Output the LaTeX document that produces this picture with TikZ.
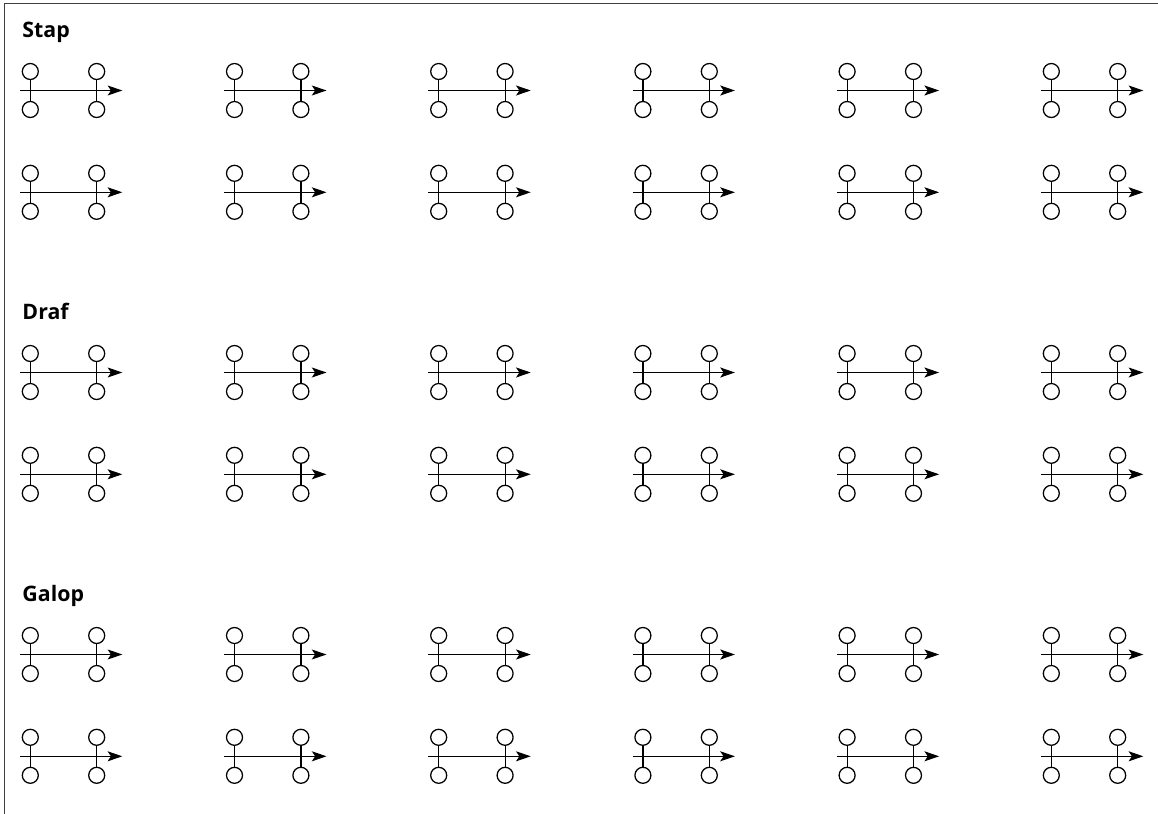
\documentclass[tikz,border=0pt]{standalone}
\usepackage{fontspec}
\setmainfont{Open Sans}
\usetikzlibrary{arrows.meta}

\tikzset{
  hoof/.style = {draw, circle, minimum size=12pt, inner sep=0pt, line width=0.95pt},
  leg/.style = {line width=0.9pt},
  pace/.style = {line width=0.8pt, -{Stealth[length=11pt, width=7.5pt, inset=2.5pt]}},
  gaitlabel/.style = {anchor=base west, inner sep=0pt, font=\bfseries\fontsize{16pt}{19pt}\selectfont},
  frameline/.style = {line width=1.1pt, black!75}
}

\begin{document}
\begin{tikzpicture}[x=0.75pt, y=-0.75pt]
\useasboundingbox (0,0) rectangle (1158,814);
% frame: top and left only
\coordinate (fbl) at (4.7,814);
\coordinate (ftl) at (4.7,3.3);
\coordinate (ftr) at (1158,3.3);
\draw[frameline] (fbl) -- (ftl) -- (ftr);
% three gaits, two rows of six steps each
\foreach \s/\gait in {0/Stap, 1/Draf, 2/Galop}{
  \node[gaitlabel] (gait\s) at (22.2, 37.5+282*\s) {\gait};
  \foreach \r in {0,1}{
    \foreach \c in {0,...,5}{
      \pgfmathsetmacro\ux{30.3+204.2*\c}
      \pgfmathsetmacro\uy{90.5+282*\s+101.8*\r}
      \node[hoof] (lt\s\r\c) at (\ux, \uy-19) {};
      \node[hoof] (lb\s\r\c) at (\ux, \uy+19) {};
      \node[hoof] (rt\s\r\c) at (\ux+66.4, \uy-19) {};
      \node[hoof] (rb\s\r\c) at (\ux+66.4, \uy+19) {};
      \draw[leg] (lt\s\r\c) -- (lb\s\r\c);
      \draw[leg] (rt\s\r\c) -- (rb\s\r\c);
      \coordinate (st\s\r\c) at (\ux-10.3, \uy);
      \coordinate (en\s\r\c) at (\ux+92, \uy);
      \draw[pace] (st\s\r\c) -- (en\s\r\c);
    }
  }
}
\end{tikzpicture}
\end{document}
